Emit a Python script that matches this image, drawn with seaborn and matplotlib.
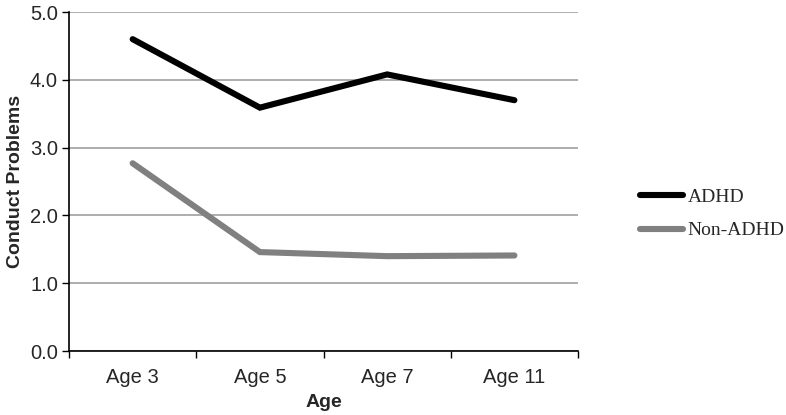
import matplotlib
matplotlib.use('Agg')
import matplotlib.pyplot as plt
from matplotlib.ticker import MultipleLocator, FixedLocator
import pandas as pd
import seaborn as sns

ages = ['Age 3', 'Age 5', 'Age 7', 'Age 11']
adhd = [4.60, 3.59, 4.08, 3.70]
non_adhd = [2.77, 1.46, 1.40, 1.41]
groups = ['ADHD', 'Non-ADHD']
colors = ['#000000', '#808080']

df = pd.DataFrame({
    'Age': ages * 2,
    'Conduct Problems': adhd + non_adhd,
    'Group': [groups[0]] * len(ages) + [groups[1]] * len(ages),
})

sns.set_style('white')
plt.rcParams['font.family'] = ['Liberation Sans', 'DejaVu Sans']

fig = plt.figure(figsize=(7.86, 4.15), dpi=100)
ax = fig.add_axes([0.0878, 0.154, 0.6476, 0.817])

sns.lineplot(data=df, x='Age', y='Conduct Problems', hue='Group',
             palette=dict(zip(groups, colors)), sort=False,
             linewidth=4.4, solid_capstyle='round', solid_joinstyle='miter',
             legend=False, ax=ax)

ax.set_xlim(-0.5, len(ages) - 0.5)
ax.set_ylim(0, 5)
ax.yaxis.set_major_locator(MultipleLocator(1))
ax.yaxis.set_major_formatter(matplotlib.ticker.FormatStrFormatter('%.1f'))
ax.grid(axis='y', color='#a0a0a0', linewidth=1.2)
ax.set_axisbelow(True)

ax.set_xticks(range(len(ages)))
ax.set_xticklabels(ages)
ax.xaxis.set_minor_locator(FixedLocator([i - 0.5 for i in range(len(ages) + 1)]))
ax.tick_params(axis='x', which='major', length=0, labelsize=14.5, pad=12)
ax.tick_params(axis='x', which='minor', length=5, width=1, color='black', direction='out')
ax.tick_params(axis='y', length=5, width=1, color='black', direction='out', labelsize=14.5, pad=3)
ax.tick_params(bottom=True, left=True, which='both')

for s in ['top', 'right']:
    ax.spines[s].set_visible(False)
for s in ['left', 'bottom']:
    ax.spines[s].set_color('black')
    ax.spines[s].set_linewidth(1.2)

ax.set_xlabel('Age', fontsize=14, fontweight='bold', labelpad=5)
ax.set_ylabel('Conduct Problems', fontsize=14, fontweight='bold', labelpad=4)

handles = [plt.Line2D([], [], color=c, linewidth=4.4, solid_capstyle='round') for c in colors]
fig.legend(handles, groups, loc='center left', bbox_to_anchor=(640 / 786, 1 - 214 / 415),
           frameon=False, borderpad=0, borderaxespad=0, handlelength=2.2,
           handletextpad=0.25, labelspacing=0.8,
           prop={'family': 'Liberation Serif', 'size': 14})

fig.savefig('out.png', dpi=100)
